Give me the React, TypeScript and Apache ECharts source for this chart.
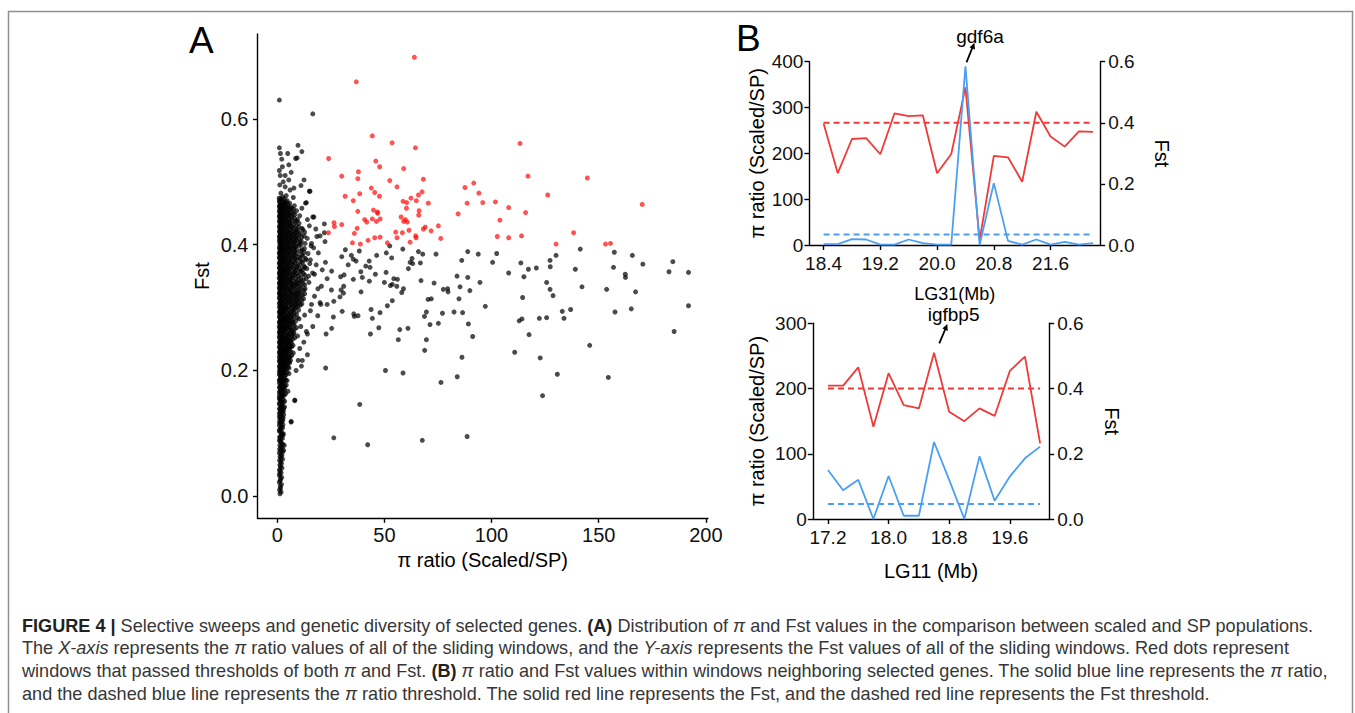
import React, { useEffect, useRef } from "react";
import * as echarts from "echarts";

const FONT = "'Liberation Sans', Arial, Helvetica, sans-serif";

// ---------- Panel A : pi ratio vs Fst scatter ----------
const piTicks = [0, 50, 100, 150, 200];
const fstTicks = [0, 0.2, 0.4, 0.6];

// dense cluster of windows, each row: [Fst, pi ratio values...]
const clusterRows: number[][] = [
  [0.004, 1.3], [0.01, 1.1], [0.016, 1.4], [0.022, 1.0], [0.027, 1.6], [0.032, 1.2], [0.037, 1.8],
  [0.042, 1.0], [0.047, 1.5], [0.052, 2.0], [0.057, 1.1], [0.061, 1.7], [0.065, 2.2], [0.069, 1.0],
  [0.073, 1.5, 3.0], [0.077, 2.3], [0.081, 1.2, 3.3], [0.085, 1.9], [0.089, 1.0], [0.092, 2.4],
  [0.095, 1.5], [0.099, 2.0, 2.9],
  [0.103, 1.1], [0.106, 1.8], [0.109, 2.5], [0.113, 1.0], [0.116, 1.5], [0.119, 2.2, 6.5], [0.123, 1.2],
  [0.125, 2.8], [0.128, 1.7], [0.132, 1.0], [0.134, 2.4], [0.138, 1.4], [0.14, 3.0], [0.143, 2.0],
  [0.146, 1.1], [0.149, 2.7], [0.152, 1.6, 8.2], [0.156, 1.0], [0.158, 2.3], [0.161, 3.3], [0.164, 1.3],
  [0.167, 1.9, 5.0], [0.17, 2.8], [0.173, 1.0], [0.175, 3.6], [0.178, 1.6], [0.181, 2.4], [0.184, 1.1, 4.6],
  [0.186, 3.1], [0.189, 2.0], [0.192, 1.3], [0.193, 3.9], [0.195, 2.6, 5.5], [0.198, 1.0, 1.8],
  [0.202, 1.2, 2.8, 4.3], [0.206, 1.0, 2.0, 3.6, 5.0], [0.21, 1.5, 3.0, 4.6], [0.214, 1.1, 2.4, 3.9, 5.5],
  [0.218, 1.6, 3.2, 4.9], [0.222, 1.0, 2.2, 4.2, 6.0], [0.226, 1.4, 3.0, 5.3], [0.23, 1.1, 2.5, 3.8, 6.3],
  [0.234, 1.7, 3.3, 4.8], [0.238, 1.0, 2.3, 4.3, 5.8, 6.8], [0.242, 1.5, 3.0, 5.0], [0.246, 1.1, 2.6, 4.0, 6.2],
  [0.25, 1.8, 3.4, 5.4, 7.2], [0.254, 1.0, 2.2, 4.5], [0.258, 1.4, 3.0, 5.8, 7.5], [0.262, 1.1, 2.5, 3.8, 6.6],
  [0.266, 1.7, 3.3, 4.9, 8.0], [0.27, 1.0, 2.2, 4.2, 6.0], [0.274, 1.4, 3.0, 5.4, 7.4],
  [0.278, 1.1, 2.6, 3.9, 6.7, 8.5], [0.282, 1.8, 3.4, 5.0], [0.286, 1.0, 2.3, 4.4, 6.1, 7.8],
  [0.29, 1.5, 3.0, 5.6, 9.0], [0.294, 1.1, 2.6, 3.8, 6.9], [0.298, 1.7, 3.3, 4.8, 8.1],
  [0.302, 1.2, 3.0, 5.2, 7.5, 9.8], [0.306, 1.0, 2.2, 4.1, 6.3, 8.6, 11.5], [0.31, 1.5, 3.4, 5.6, 7.9, 10.2],
  [0.314, 1.1, 2.6, 4.6, 6.8, 9.2, 12.3], [0.318, 1.7, 3.8, 5.9, 8.2, 10.8], [0.322, 1.0, 2.3, 4.3, 7.2, 9.5, 12.8],
  [0.326, 1.4, 3.2, 5.4, 7.7, 11.0], [0.33, 1.1, 2.7, 4.8, 6.5, 8.9, 13.0], [0.334, 1.8, 3.6, 5.9, 8.0, 10.5],
  [0.338, 1.0, 2.2, 4.2, 7.0, 9.4, 12.0], [0.342, 1.5, 3.1, 5.3, 7.8, 11.2], [0.346, 1.1, 2.6, 4.7, 6.2, 8.7, 13.5],
  [0.35, 1.7, 3.5, 5.8, 7.4, 10.0, 14.6], [0.354, 1.0, 2.3, 4.4, 6.7, 9.1, 12.2], [0.358, 1.4, 3.0, 5.1, 8.2, 11.0],
  [0.362, 1.1, 2.7, 4.0, 6.0, 7.6, 10.4, 13.8], [0.366, 1.8, 3.6, 5.5, 8.8, 12.5], [0.37, 1.0, 2.2, 4.5, 6.9, 9.6, 15.2],
  [0.374, 1.5, 3.2, 5.2, 7.5, 11.3], [0.378, 1.1, 2.6, 4.1, 6.3, 8.4, 10.6, 13.2], [0.382, 1.7, 3.5, 5.7, 7.9, 12.0],
  [0.386, 1.0, 2.3, 4.6, 6.6, 9.3, 14.4], [0.39, 1.4, 3.1, 5.3, 8.1, 10.9], [0.394, 1.1, 2.7, 4.2, 6.0, 7.4, 12.7],
  [0.398, 1.8, 3.6, 5.5, 8.6, 10.2, 15.8],
  [0.402, 1.2, 2.9, 4.8, 7.0, 9.4, 13.0], [0.406, 1.0, 2.2, 4.0, 6.1, 8.3, 11.2], [0.41, 1.5, 3.4, 5.5, 7.6, 10.0],
  [0.414, 1.1, 2.6, 4.5, 6.7, 9.0, 12.6], [0.418, 1.7, 3.8, 5.9, 8.1, 10.8], [0.422, 1.0, 2.3, 4.3, 7.2, 9.6],
  [0.426, 1.4, 3.2, 5.3, 7.8, 11.5], [0.43, 1.1, 2.7, 4.8, 6.4, 8.9], [0.434, 1.8, 3.6, 5.8, 10.2],
  [0.438, 1.0, 2.2, 4.2, 7.0, 9.0], [0.442, 1.5, 3.1, 5.3, 8.0], [0.446, 1.1, 2.6, 4.7, 6.2, 10.5],
  [0.45, 1.7, 3.5, 5.8, 7.5], [0.454, 1.0, 2.3, 4.4, 9.0], [0.458, 1.4, 3.0, 5.1, 6.8, 11.5],
  [0.462, 1.1, 2.7, 4.0, 8.0], [0.466, 1.8, 3.5, 5.8], [0.47, 1.0, 2.4, 4.6],
];

// further windows inside the dense cluster, rows: [Fst, pi ratio values...]
const clusterRowsFill: number[][] = [
  [0.007, 1.8], [0.013, 1.6], [0.019, 2.0], [0.025, 1.3], [0.03, 2.1], [0.035, 1.0], [0.04, 1.4],
  [0.045, 2.2], [0.05, 1.2], [0.055, 1.7], [0.059, 2.5], [0.063, 1.3], [0.067, 1.8], [0.071, 2.6],
  [0.075, 1.1], [0.079, 1.8], [0.083, 2.6], [0.087, 1.4], [0.091, 1.7], [0.094, 1.1], [0.097, 2.6],
  [0.101, 2.2], [0.105, 1.0], [0.108, 1.4], [0.111, 2.0], [0.114, 2.7], [0.118, 1.0, 1.8], [0.121, 2.6],
  [0.124, 1.6], [0.127, 1.0, 2.2], [0.13, 3.0], [0.133, 1.5], [0.136, 2.0, 2.9], [0.139, 1.0],
  [0.142, 1.6, 3.4], [0.145, 2.3], [0.148, 1.0], [0.151, 2.0, 3.5], [0.154, 1.2, 2.8], [0.157, 1.7],
  [0.16, 1.0, 2.5], [0.163, 2.0, 3.9], [0.166, 1.0, 2.6], [0.169, 1.5, 3.5], [0.172, 2.2], [0.174, 1.3, 3.0],
  [0.177, 2.0, 4.2], [0.18, 1.0, 3.2], [0.183, 1.8, 2.8], [0.185, 1.0, 4.0], [0.188, 1.5, 2.7],
  [0.191, 2.3, 3.6], [0.194, 1.0, 1.9], [0.197, 2.4, 3.3, 4.6], [0.2, 1.5, 3.5],
  [0.204, 1.8, 3.4, 5.5], [0.208, 1.2, 2.6, 4.2], [0.212, 1.8, 3.5, 5.8], [0.216, 1.0, 2.8, 4.4, 6.2],
  [0.22, 1.3, 2.5, 3.8, 5.6], [0.224, 1.8, 3.5, 4.9, 6.8], [0.228, 1.0, 2.3, 4.1], [0.232, 1.5, 2.9, 4.5, 5.6],
  [0.236, 1.1, 2.7, 4.0, 6.0], [0.24, 1.9, 3.6, 5.4, 7.4], [0.244, 1.0, 2.2, 4.4, 6.6], [0.248, 1.4, 3.0, 4.9, 5.8],
  [0.252, 1.1, 2.6, 4.2, 6.3, 8.2], [0.256, 1.9, 3.7, 5.2, 6.8], [0.26, 1.0, 2.2, 4.6, 7.8],
  [0.264, 1.4, 3.0, 5.5, 7.0], [0.268, 1.1, 2.6, 3.9, 6.2, 9.0], [0.272, 1.8, 3.6, 5.0, 7.9],
  [0.276, 1.0, 2.3, 4.4, 6.2], [0.28, 1.5, 3.1, 4.8, 5.8, 7.4], [0.284, 1.2, 2.7, 4.0, 6.6, 9.4],
  [0.288, 1.8, 3.6, 5.2, 7.0], [0.292, 1.0, 2.3, 4.3, 6.2, 8.0], [0.296, 1.4, 3.0, 5.5, 7.4, 10.0],
  [0.3, 1.1, 2.6, 4.2, 6.5, 8.8],
  [0.304, 1.8, 3.8, 6.4, 8.5, 10.8], [0.308, 1.2, 2.8, 5.0, 7.2, 9.6], [0.312, 1.9, 4.2, 6.2, 8.8, 11.4],
  [0.316, 1.0, 3.0, 5.2, 7.6, 10.0], [0.32, 1.4, 2.8, 4.8, 6.5, 8.9, 11.8], [0.324, 1.1, 3.6, 6.2, 8.4, 10.2],
  [0.328, 1.8, 3.9, 5.9, 9.6, 12.4], [0.332, 1.0, 2.4, 4.2, 7.4, 11.0], [0.336, 1.4, 3.0, 5.0, 6.8, 9.0, 12.8],
  [0.34, 1.1, 2.5, 4.4, 6.3, 8.6, 10.3], [0.344, 1.8, 3.8, 6.0, 9.8, 12.2], [0.348, 1.0, 2.2, 4.0, 7.0, 11.0],
  [0.352, 1.4, 3.0, 5.0, 8.4, 12.8], [0.356, 1.1, 2.7, 4.0, 6.0, 7.6, 10.6], [0.36, 1.8, 3.5, 5.3, 8.8, 11.9],
  [0.364, 1.0, 2.3, 4.4, 6.6, 9.2, 12.8], [0.368, 1.4, 3.0, 5.0, 7.3, 10.6], [0.372, 1.1, 2.6, 4.0, 6.0, 8.2, 11.8],
  [0.376, 1.8, 3.6, 5.6, 9.0, 13.5], [0.38, 1.0, 2.2, 4.2, 7.0, 10.0], [0.384, 1.4, 3.0, 5.1, 8.2, 11.4],
  [0.388, 1.1, 2.6, 4.0, 6.2, 7.7, 12.6], [0.392, 1.8, 3.6, 5.6, 9.0, 11.6], [0.396, 1.0, 2.2, 4.6, 6.8, 8.4],
  [0.4, 1.4, 3.0, 5.2, 7.5, 11.0],
  [0.404, 1.8, 3.8, 5.8, 8.0, 10.6], [0.408, 1.2, 2.8, 4.8, 6.9, 9.0], [0.412, 1.0, 2.2, 4.2, 6.2, 8.6, 11.5],
  [0.416, 1.4, 3.2, 5.2, 7.5, 10.2], [0.42, 1.1, 2.6, 4.8, 6.4, 8.8], [0.424, 1.8, 3.6, 5.8, 9.0, 12.0],
  [0.428, 1.0, 2.3, 4.2, 6.8, 10.0], [0.432, 1.5, 3.2, 5.2, 7.5], [0.436, 1.1, 2.6, 4.5, 6.0, 8.5],
  [0.44, 1.8, 3.7, 5.7, 9.5], [0.444, 1.0, 2.3, 4.1, 6.9], [0.448, 1.4, 3.1, 5.0, 8.2],
  [0.452, 1.1, 2.7, 4.6, 6.4], [0.456, 1.8, 3.6, 5.7, 7.6], [0.46, 1.0, 2.3, 4.2, 6.0], [0.464, 1.4, 3.0, 5.0],
  [0.468, 1.1, 2.8, 4.0], [0.473, 1.5, 3.2],
];

// scattered black windows [pi ratio, Fst]
const blackOutliers: number[][] = [
  [6.5, 0.118], [8.2, 0.153], [9.8, 0.216], [11.7, 0.216], [14.1, 0.225], [8.8, 0.2], [10.5, 0.235],
  [12.4, 0.245], [9.5, 0.255], [13.6, 0.262], [11.0, 0.27], [14.1, 0.258], [16.6, 0.27], [10.2, 0.282],
  [12.8, 0.288], [15.5, 0.295], [18.9, 0.287], [22.8, 0.258], [25.4, 0.267], [26.2, 0.285], [11.3, 0.207],
  [7.5, 0.228], [16.0, 0.305], [17.4, 0.318], [14.8, 0.34], [19.0, 0.33], [20.6, 0.334], [16.5, 0.355],
  [17.4, 0.353], [18.2, 0.368], [15.5, 0.376], [19.2, 0.387], [17.0, 0.395], [20.0, 0.308], [21.0, 0.36],
  [22.5, 0.372], [13.6, 0.467], [17.1, 0.444], [22.0, 0.433], [20.0, 0.414], [22.3, 0.405], [14.1, 0.44],
  [16.6, 0.444], [22.0, 0.419], [18.5, 0.413], [13.2, 0.466], [15.3, 0.485], [12.8, 0.42], [15.0, 0.43],
  [14.0, 0.41], [16.0, 0.402], [18.0, 0.425], [0.9, 0.474], [1.7, 0.482], [3.7, 0.492], [6.0, 0.487],
  [15.0, 0.485], [11.1, 0.494], [12.5, 0.503], [5.4, 0.503], [1.4, 0.51], [3.7, 0.51], [1.0, 0.518],
  [5.4, 0.527], [8.6, 0.537], [9.3, 0.538], [2.1, 0.536], [4.9, 0.545], [11.5, 0.548], [9.7, 0.558],
  [1.0, 0.554], [1.0, 0.63], [16.6, 0.608], [2.5, 0.476], [4.2, 0.478], [7.5, 0.475], [2.8, 0.5],
  [1.2, 0.495], [7.8, 0.49], [2.4, 0.524], [1.5, 0.545], [6.5, 0.515],
  [30.1, 0.381], [31.8, 0.392], [34.6, 0.383], [35.5, 0.377], [38.3, 0.39], [36.8, 0.374], [33.1, 0.368],
  [39.0, 0.357], [42.9, 0.374], [43.3, 0.364], [41.3, 0.366], [46.4, 0.383], [45.8, 0.353], [39.7, 0.348],
  [35.5, 0.345], [31.2, 0.352], [29.6, 0.349], [25.4, 0.358], [23.3, 0.346], [43.0, 0.342], [50.9, 0.387],
  [53.4, 0.379], [52.5, 0.398], [58.6, 0.393], [50.8, 0.356], [50.0, 0.34], [52.8, 0.335], [54.4, 0.346],
  [56.1, 0.345], [55.8, 0.334], [53.7, 0.337], [58.9, 0.33], [58.1, 0.324], [39.1, 0.325], [31.0, 0.334],
  [29.8, 0.328], [30.9, 0.323], [29.3, 0.317], [26.4, 0.31], [23.3, 0.305], [20.3, 0.305], [25.3, 0.328],
  [30.3, 0.294], [35.7, 0.29], [36.0, 0.286], [37.7, 0.287], [43.8, 0.297], [44.4, 0.283], [48.0, 0.292],
  [51.4, 0.303], [53.7, 0.311], [43.5, 0.258], [47.4, 0.268], [57.2, 0.265], [61.0, 0.267], [56.5, 0.249],
  [22.6, 0.204], [38.5, 0.146], [26.4, 0.093], [42.2, 0.082], [50.5, 0.2], [58.7, 0.196], [65.9, 0.389],
  [67.9, 0.385], [62.9, 0.378], [62.0, 0.372], [63.2, 0.37], [61.2, 0.362], [66.8, 0.371], [74.1, 0.385],
  [67.1, 0.343], [73.2, 0.339], [77.5, 0.329], [79.5, 0.33], [79.7, 0.325], [70.4, 0.313], [71.9, 0.314],
  [69.6, 0.293], [68.7, 0.286], [71.3, 0.273], [75.2, 0.275], [77.1, 0.291], [82.5, 0.293], [86.5, 0.292],
  [84.8, 0.314], [85.3, 0.333], [89.9, 0.327], [89.2, 0.274], [91.2, 0.254], [83.9, 0.35], [88.9, 0.348],
  [94.6, 0.34], [86.1, 0.375], [88.9, 0.389], [93.8, 0.385], [102.4, 0.386], [100.5, 0.372], [97.1, 0.302],
  [69.6, 0.249], [68.8, 0.232], [86.2, 0.221], [84.0, 0.19], [76.4, 0.181], [67.7, 0.089], [88.6, 0.095],
  [108.0, 0.355], [113.7, 0.371], [115.1, 0.349], [117.2, 0.361], [120.9, 0.363], [117.5, 0.257],
  [114.5, 0.316], [112.9, 0.279], [114.2, 0.282], [110.8, 0.229], [122.7, 0.22], [122.3, 0.283],
  [125.7, 0.284], [123.8, 0.16], [125.7, 0.34], [127.3, 0.329], [128.7, 0.319], [127.3, 0.375],
  [127.4, 0.365], [130.1, 0.383], [130.7, 0.194], [133.0, 0.294], [133.8, 0.283], [136.9, 0.297],
  [139.1, 0.361], [141.4, 0.393], [142.2, 0.333], [145.8, 0.24], [153.7, 0.329], [154.5, 0.189],
  [156.9, 0.364], [157.3, 0.388], [157.6, 0.293], [162.4, 0.353], [162.5, 0.348], [165.7, 0.383],
  [167.2, 0.325], [170.6, 0.369], [165.2, 0.298], [182.8, 0.357], [184.6, 0.373], [185.2, 0.262],
  [191.9, 0.356], [191.9, 0.303],
];

// windows passing both thresholds [pi ratio, Fst]
const redWindows: number[][] = [
  [64.0, 0.698], [36.9, 0.659], [44.4, 0.573], [53.6, 0.562], [64.5, 0.554], [113.3, 0.561], [24.0, 0.537],
  [46.0, 0.533], [47.8, 0.524], [59.0, 0.521], [37.9, 0.516], [30.1, 0.509], [37.6, 0.505], [68.2, 0.504],
  [117.0, 0.509], [144.7, 0.506], [52.5, 0.502], [55.9, 0.492], [43.9, 0.49], [87.6, 0.491], [91.7, 0.498],
  [45.5, 0.483], [67.6, 0.484], [94.1, 0.482], [38.5, 0.481], [31.7, 0.477], [47.7, 0.477], [62.4, 0.474],
  [65.9, 0.479], [35.5, 0.47], [58.7, 0.469], [60.4, 0.467], [64.9, 0.47], [70.5, 0.466], [88.6, 0.466],
  [95.9, 0.467], [101.8, 0.468], [126.2, 0.479], [170.3, 0.464], [108.0, 0.459], [60.3, 0.458], [37.6, 0.453],
  [44.9, 0.455], [46.7, 0.452], [46.9, 0.45], [66.2, 0.454], [66.0, 0.447], [84.4, 0.449], [115.9, 0.451],
  [26.5, 0.435], [26.7, 0.429], [30.1, 0.432], [40.8, 0.44], [41.8, 0.436], [44.4, 0.441], [46.3, 0.437],
  [48.0, 0.441], [57.8, 0.444], [59.0, 0.437], [60.7, 0.436], [59.8, 0.44], [103.9, 0.439], [37.3, 0.426],
  [75.2, 0.43], [69.1, 0.428], [68.2, 0.425], [71.8, 0.422], [23.9, 0.419], [36.0, 0.418], [55.3, 0.42],
  [58.4, 0.419], [61.5, 0.423], [64.6, 0.414], [64.8, 0.411], [55.9, 0.411], [45.5, 0.411], [48.0, 0.412],
  [102.7, 0.413], [108.0, 0.411], [114.0, 0.414], [138.3, 0.419], [35.1, 0.403], [38.8, 0.401], [42.4, 0.407],
  [51.4, 0.403], [62.0, 0.404], [76.3, 0.41], [130.1, 0.401], [153.2, 0.401], [155.5, 0.402],
];

// ---------- Panel B (top): LG31 around gdf6a ----------
const lg31Mb = [18.4, 18.6, 18.8, 19.0, 19.2, 19.4, 19.6, 19.8, 20.0, 20.2, 20.4, 20.6, 20.8, 21.0, 21.2, 21.4, 21.6, 21.8, 22.0, 22.2];
const lg31Pi = [2, 2, 13, 12, 1, 1, 12, 4, 1, 1, 390, 0, 135, 9, 1, 12, 1, 7, 1, 4];
const lg31Fst = [0.398, 0.235, 0.347, 0.35, 0.297, 0.431, 0.422, 0.424, 0.235, 0.298, 0.516, 0.016, 0.292, 0.287, 0.207, 0.436, 0.355, 0.322, 0.372, 0.37];
const lg31PiThreshold = 23;
const lg31FstThreshold = 0.4;
const lg31Ticks = [18.4, 19.2, 20.0, 20.8, 21.6];

// ---------- Panel B (bottom): LG11 around igfbp5 ----------
const lg11Mb = [17.2, 17.4, 17.6, 17.8, 18.0, 18.2, 18.4, 18.6, 18.8, 19.0, 19.2, 19.4, 19.6, 19.8, 20.0];
const lg11Pi = [75, 44, 60, 0, 66, 5, 5, 118, 60, 0, 96, 28, 65, 93, 111];
const lg11Fst = [0.409, 0.409, 0.465, 0.283, 0.447, 0.349, 0.339, 0.51, 0.329, 0.3, 0.339, 0.316, 0.454, 0.498, 0.232];
const lg11PiThreshold = 23;
const lg11FstThreshold = 0.4;
const lg11Ticks = [17.2, 18.0, 18.8, 19.6];

const RED = "#f03a3a";
const BLUE = "#4a9ff5";

const captionLines = [
  "{b|FIGURE 4 |} Selective sweeps and genetic diversity of selected genes. {b|(A)} Distribution of {i|π} and Fst values in the comparison between scaled and SP populations.",
  "The {i|X-axis} represents the {i|π} ratio values of all of the sliding windows, and the {i|Y-axis} represents the Fst values of all of the sliding windows. Red dots represent",
  "windows that passed thresholds of both {i|π} and Fst. {b|(B)} {i|π} ratio and Fst values within windows neighboring selected genes. The solid blue line represents the {i|π} ratio,",
  "and the dashed blue line represents the {i|π} ratio threshold. The solid red line represents the Fst, and the dashed red line represents the Fst threshold.",
];
const CAP_SIZE = 18.1;

function axisBase(fontSize: number, margin: number) {
  return {
    axisLine: { show: true, onZero: false, lineStyle: { color: "#000", width: 1.4 } },
    axisTick: { show: true, length: 5, lineStyle: { color: "#000", width: 1.4 } },
    splitLine: { show: false },
    axisLabel: { color: "#111", fontFamily: FONT, fontSize, margin },
    nameTextStyle: { color: "#000", fontFamily: FONT, fontSize },
  };
}

export default function App() {
  const ref = useRef<HTMLDivElement>(null);

  useEffect(() => {
    if (!ref.current) return;
    const chart = echarts.init(ref.current, undefined, { renderer: "svg" });

    const blackPoints: number[][] = [];
    [...clusterRows, ...clusterRowsFill].forEach((row) => {
      for (let k = 1; k < row.length; k++) blackPoints.push([row[k], row[0]]);
    });
    blackOutliers.forEach((p) => blackPoints.push(p));

    const pairs = (xs: number[], ys: number[]) => xs.map((x, i) => [x, ys[i]]);
    const hline = (xs: number[], v: number) => [[xs[0], v], [xs[xs.length - 1], v]];
    const fmt1 = (v: number) => v.toFixed(1);

    const aX = axisBase(20, 7);
    const aY = axisBase(20, 9);
    const bX = axisBase(19, 9);
    const bL = axisBase(19, 6);
    const bR = axisBase(19, 8);

    const option: any = {
      animation: false,
      backgroundColor: "#fff",
      grid: [
        { left: 257.5, top: 34, width: 450.5, height: 484.3, outerBoundsMode: "none" },
        { left: 809.4, top: 61.7, width: 290.8, height: 183.3, outerBoundsMode: "none" },
        { left: 812.8, top: 323.3, width: 236.4, height: 195.7, outerBoundsMode: "none" },
      ],
      xAxis: [
        {
          ...aX,
          gridIndex: 0, type: "value", min: -9.2, max: 201,
          axisLabel: { ...aX.axisLabel, customValues: piTicks },
          axisTick: { ...aX.axisTick, customValues: piTicks, length: 4.5 },
          name: "π ratio (Scaled/SP)", nameLocation: "middle", nameGap: 30,
        },
        {
          ...bX,
          gridIndex: 1, type: "value", min: 18.2, max: 22.3,
          axisLabel: { ...bX.axisLabel, customValues: lg31Ticks, formatter: fmt1 },
          axisTick: { ...bX.axisTick, customValues: lg31Ticks },
          name: "LG31(Mb)", nameLocation: "middle", nameGap: 40,
          nameTextStyle: { ...bX.nameTextStyle, fontSize: 18 },
        },
        {
          ...bX,
          gridIndex: 2, type: "value", min: 17.0, max: 20.12,
          axisLabel: { ...bX.axisLabel, customValues: lg11Ticks, formatter: fmt1 },
          axisTick: { ...bX.axisTick, customValues: lg11Ticks },
          name: "LG11 (Mb)", nameLocation: "middle", nameGap: 42,
          nameTextStyle: { ...bX.nameTextStyle, fontSize: 20 },
        },
      ],
      yAxis: [
        {
          ...aY,
          gridIndex: 0, type: "value", min: -0.035, max: 0.735,
          axisLabel: { ...aY.axisLabel, customValues: fstTicks, formatter: fmt1 },
          axisTick: { ...aY.axisTick, customValues: fstTicks, length: 4.5 },
          name: "Fst", nameLocation: "middle", nameGap: 46, nameRotate: 90,
        },
        {
          ...bL,
          gridIndex: 1, type: "value", position: "left", min: 0, max: 400, interval: 100,
          name: "π ratio (Scaled/SP)", nameLocation: "middle", nameGap: 42, nameRotate: 90,
          nameTextStyle: { ...bL.nameTextStyle, fontSize: 20 },
        },
        {
          ...bR,
          gridIndex: 1, type: "value", position: "right", min: 0, max: 0.6, interval: 0.2,
          axisLabel: { ...bR.axisLabel, formatter: fmt1 },
          name: "Fst", nameLocation: "middle", nameGap: 52, nameRotate: -90,
          nameTextStyle: { ...bR.nameTextStyle, fontSize: 20 },
        },
        {
          ...bL,
          gridIndex: 2, type: "value", position: "left", min: 0, max: 300, interval: 100,
          name: "π ratio (Scaled/SP)", nameLocation: "middle", nameGap: 46, nameRotate: 90,
          nameTextStyle: { ...bL.nameTextStyle, fontSize: 20 },
        },
        {
          ...bR,
          gridIndex: 2, type: "value", position: "right", min: 0, max: 0.6, interval: 0.2,
          axisLabel: { ...bR.axisLabel, formatter: fmt1 },
          name: "Fst", nameLocation: "middle", nameGap: 53, nameRotate: -90,
          nameTextStyle: { ...bR.nameTextStyle, fontSize: 20 },
        },
      ],
      series: [
        {
          type: "scatter", xAxisIndex: 0, yAxisIndex: 0, data: blackPoints, symbolSize: 5,
          itemStyle: { color: "rgba(0,0,0,0.88)" }, silent: true,
        },
        {
          type: "scatter", xAxisIndex: 0, yAxisIndex: 0, data: redWindows, symbolSize: 5,
          itemStyle: { color: "rgba(255,0,0,0.85)" }, silent: true,
        },
        // LG31
        {
          type: "line", xAxisIndex: 1, yAxisIndex: 2, data: hline(lg31Mb, lg31FstThreshold), showSymbol: false,
          lineStyle: { color: RED, width: 2, type: [6, 4] }, silent: true,
        },
        {
          type: "line", xAxisIndex: 1, yAxisIndex: 1, data: hline(lg31Mb, lg31PiThreshold), showSymbol: false,
          lineStyle: { color: BLUE, width: 2, type: [6, 4] }, silent: true,
        },
        {
          type: "line", xAxisIndex: 1, yAxisIndex: 2, data: pairs(lg31Mb, lg31Fst), showSymbol: false,
          lineStyle: { color: RED, width: 1.8 }, silent: true,
        },
        {
          type: "line", xAxisIndex: 1, yAxisIndex: 1, data: pairs(lg31Mb, lg31Pi), showSymbol: false,
          lineStyle: { color: BLUE, width: 1.8 }, silent: true,
        },
        // LG11
        {
          type: "line", xAxisIndex: 2, yAxisIndex: 4, data: hline(lg11Mb, lg11FstThreshold), showSymbol: false,
          lineStyle: { color: RED, width: 2, type: [6, 4] }, silent: true,
        },
        {
          type: "line", xAxisIndex: 2, yAxisIndex: 3, data: hline(lg11Mb, lg11PiThreshold), showSymbol: false,
          lineStyle: { color: BLUE, width: 2, type: [6, 4] }, silent: true,
        },
        {
          type: "line", xAxisIndex: 2, yAxisIndex: 4, data: pairs(lg11Mb, lg11Fst), showSymbol: false,
          lineStyle: { color: RED, width: 1.8 }, silent: true,
        },
        {
          type: "line", xAxisIndex: 2, yAxisIndex: 3, data: pairs(lg11Mb, lg11Pi), showSymbol: false,
          lineStyle: { color: BLUE, width: 1.8 }, silent: true,
        },
      ],
      graphic: [
        {
          type: "rect", shape: { x: 8.5, y: 11.5, width: 1344, height: 760 },
          style: { fill: "none", stroke: "#8f8f8f", lineWidth: 1.5 }, silent: true,
        },
        {
          type: "text", x: 189, y: 40,
          style: { text: "A", fill: "#000", fontSize: 37, fontFamily: FONT, align: "left", verticalAlign: "middle" },
        },
        {
          type: "text", x: 736, y: 38.5,
          style: { text: "B", fill: "#000", fontSize: 37, fontFamily: FONT, align: "left", verticalAlign: "middle" },
        },
        {
          type: "text", x: 980, y: 36,
          style: { text: "gdf6a", fill: "#000", fontSize: 19, fontFamily: FONT, align: "center", verticalAlign: "middle" },
        },
        {
          type: "line", shape: { x1: 966.5, y1: 62.3, x2: 973.2, y2: 45.7 },
          style: { stroke: "#000", lineWidth: 1.8 },
        },
        {
          type: "polygon", shape: { points: [[974.4, 42.7], [975.0, 49.6], [969.6, 47.4]] },
          style: { fill: "#000" },
        },
        {
          type: "text", x: 953.6, y: 314,
          style: { text: "igfbp5", fill: "#000", fontSize: 19, fontFamily: FONT, align: "center", verticalAlign: "middle" },
        },
        {
          type: "line", shape: { x1: 939.3, y1: 343.3, x2: 946.2, y2: 327.0 },
          style: { stroke: "#000", lineWidth: 1.8 },
        },
        {
          type: "polygon", shape: { points: [[947.3, 324.0], [947.8, 330.9], [942.4, 328.6]] },
          style: { fill: "#000" },
        },
        ...captionLines.map((line, i) => ({
          type: "text", x: 22, y: 625.5 + i * 22.7,
          style: {
            text: line, fill: "#363636", fontSize: CAP_SIZE, fontFamily: FONT, align: "left", verticalAlign: "middle",
            rich: {
              b: { fontWeight: "bold", fontSize: CAP_SIZE, fontFamily: FONT, fill: "#222" },
              i: { fontStyle: "italic", fontSize: CAP_SIZE, fontFamily: FONT, fill: "#363636" },
            },
          },
        })),
      ],
    };

    chart.setOption(option);
    return () => chart.dispose();
  }, []);

  return (
    <div
      ref={ref}
      style={{ position: "absolute", left: 0, top: 0, width: 1355, height: 713, background: "#fff" }}
    />
  );
}
